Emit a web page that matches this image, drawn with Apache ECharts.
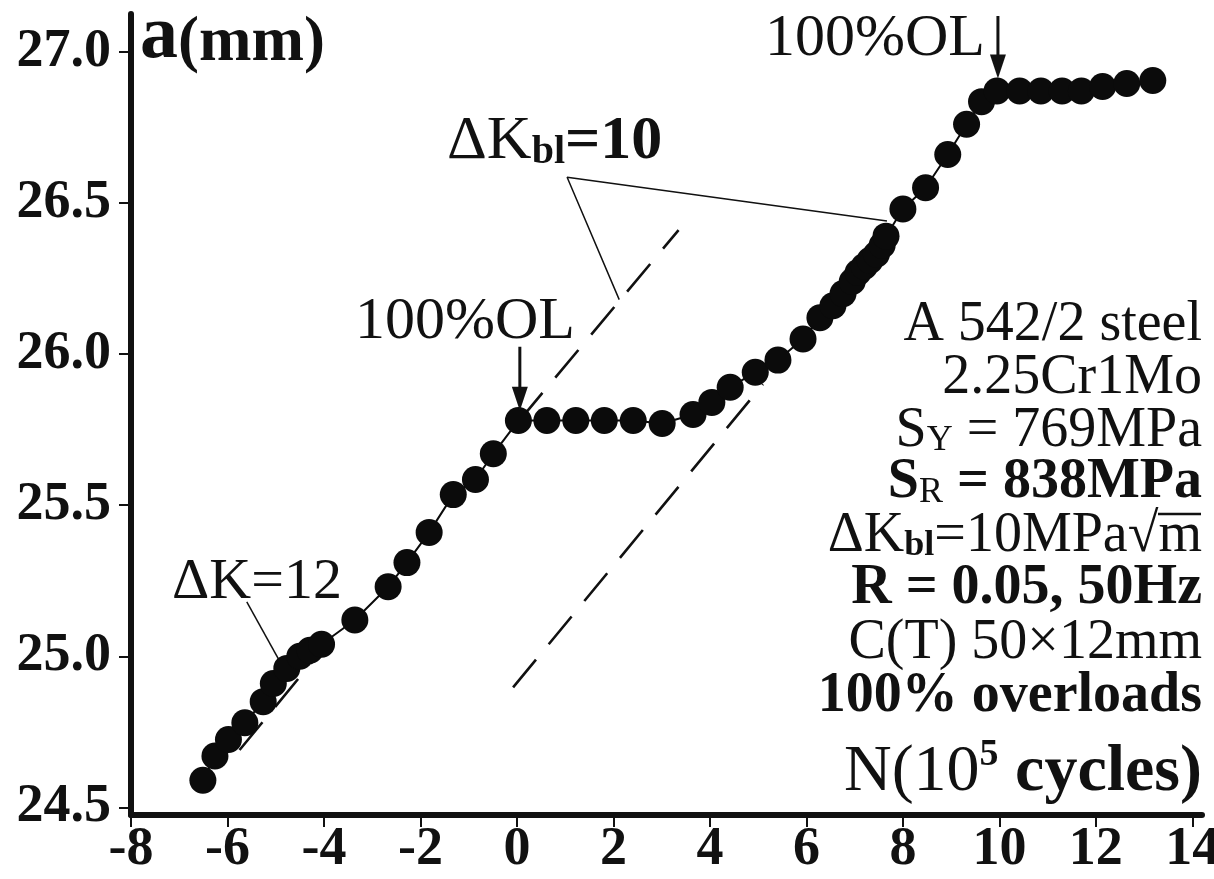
<!DOCTYPE html>
<html><head><meta charset="utf-8">
<script src="https://cdn.jsdelivr.net/npm/echarts@6/dist/echarts.min.js"></script>
<style>html,body{margin:0;padding:0;background:#fff}#c{width:1214px;height:879px}</style>
</head><body><div id="c"></div>
<script>
// ---- data ----
const cyclesN = [-6.51,-6.26,-5.98,-5.64,-5.26,-5.05,-4.77,-4.50,-4.29,-4.05,
  -3.36,-2.67,-2.28,-1.82,-1.32,-0.86,-0.49,0.03,
  0.62,1.22,1.81,2.41,3.01,
  3.65,4.04,4.42,4.94,5.41,5.93,
  6.28,6.55,6.76,6.95,7.07,7.20,7.32,7.45,7.57,7.65,
  8.00,8.47,8.93,9.32,9.63,9.95,
  10.42,10.86,11.30,11.70,12.14,12.64,13.18];
const crackA = [24.59,24.67,24.725,24.78,24.85,24.91,24.96,25.00,25.02,25.04,
  25.12,25.23,25.31,25.41,25.535,25.585,25.67,25.78,
  25.78,25.78,25.78,25.78,25.77,
  25.80,25.84,25.89,25.94,25.98,26.05,
  26.12,26.16,26.20,26.24,26.27,26.29,26.31,26.33,26.36,26.39,
  26.48,26.55,26.66,26.76,26.835,26.87,
  26.87,26.87,26.87,26.87,26.885,26.895,26.905];
const blUpperLine = [[0.05,25.78],[3.35,26.41]];
const blLowerLine = [[-0.08,24.897],[5.1,25.9]];
const dk12Line = [[-5.75,24.69],[-4.2,24.99]];
const blLeaderA = [[2.12,26.18],[1.04,26.585],[7.67,26.44]];
const dk12Leader = [[-5.6,25.18],[-4.87,24.97]];
const olArrow1 = [[0.06,26.024],[0.06,25.84]];
const olArrow2 = [[9.97,27.118],[9.97,26.94]];
const olArrowTips = [[0.06,25.812],[9.97,26.912]];
const xTicks = [-8,-6,-4,-2,0,2,4,6,8,10,12,14];
const yTicks = [24.5,25.0,25.5,26.0,26.5,27.0];
const infoLines = ['A 542/2 steel','2.25Cr1Mo','S|Y| = 769MPa','S|R| = 838MPa','ΔK|bl|=10MPa√m','R = 0.05, 50Hz','C(T) 50×12mm','100% overloads'];

const serif = "'Liberation Serif','Times New Roman',serif";
const chart = echarts.init(document.getElementById('c'), null, {renderer:'canvas'});

function dashSeries(pts){
  return {type:'line', data:pts, showSymbol:false, symbol:'none', silent:true, z:1,
    lineStyle:{color:'#111', width:2.6, type:[36,20]}, animation:false};
}
function thinSeries(pts, w){
  return {type:'line', data:pts, showSymbol:false, symbol:'none', silent:true, z:1,
    lineStyle:{color:'#111', width:w||1.5}, animation:false};
}

const infoWeights = ['normal','normal','normal','bold','normal','bold','normal','bold'];
const infoY = [323,376,429,481,534,587,641,695];
const graphics = [];
infoLines.forEach((ln,i)=>{
  const parts = ln.split('|');
  let t = '';
  parts.forEach((p,j)=>{ t += (j%2===1) ? '{sub|'+p+'}' : '{m|'+p+'}'; });
  graphics.push({type:'text', x:1202, y:infoY[i], silent:true, style:{
    text:t, align:'right', verticalAlign:'middle', fill:'#111',
    rich:{
      m:{fontFamily:serif, fontSize:56, fontWeight:infoWeights[i], lineHeight:60, fill:'#111', verticalAlign:'bottom'},
      sub:{fontFamily:serif, fontSize:36, fontWeight:(i===4?'bold':'normal'), lineHeight:50, fill:'#111', verticalAlign:'bottom'}
    }}});
});
// overline of the square root
graphics.push({type:'line', silent:true, shape:{x1:1158, y1:514, x2:1201, y2:514}, style:{stroke:'#111', lineWidth:2.5}});
// axis names and annotations
graphics.push({type:'text', x:140, y:40, silent:true, style:{
  text:'{a|a}{p|(mm)}', align:'left', verticalAlign:'middle',
  rich:{a:{fontFamily:serif,fontSize:76,fontWeight:'bold',fill:'#111',verticalAlign:'bottom',lineHeight:70},
        p:{fontFamily:serif,fontSize:63,fontWeight:'bold',fill:'#111',verticalAlign:'bottom',lineHeight:68}}}});
graphics.push({type:'text', x:1202, y:771, silent:true, style:{
  text:'{n|N(10}{s|5}{c| cycles)}', align:'right', verticalAlign:'middle',
  rich:{n:{fontFamily:serif,fontSize:66,fontWeight:'normal',fill:'#111',verticalAlign:'bottom',lineHeight:70},
        s:{fontFamily:serif,fontSize:38,fontWeight:'bold',fill:'#111',verticalAlign:'top',lineHeight:66},
        c:{fontFamily:serif,fontSize:66,fontWeight:'bold',fill:'#111',verticalAlign:'bottom',lineHeight:70}}}});
graphics.push({type:'text', x:447, y:142, silent:true, style:{
  text:'{d|ΔK}{s|bl}{e|=10}', align:'left', verticalAlign:'middle',
  rich:{d:{fontFamily:serif,fontSize:62,fontWeight:'normal',fill:'#111',verticalAlign:'bottom',lineHeight:62},
        s:{fontFamily:serif,fontSize:40,fontWeight:'bold',fill:'#111',verticalAlign:'bottom',lineHeight:46},
        e:{fontFamily:serif,fontSize:62,fontWeight:'bold',fill:'#111',verticalAlign:'bottom',lineHeight:62}}}});
graphics.push({type:'text', x:172, y:583, silent:true, style:{
  text:'ΔK=12', align:'left', verticalAlign:'middle', fontFamily:serif, fontSize:58, fill:'#111'}});
graphics.push({type:'text', x:355, y:322, silent:true, style:{
  text:'100%OL', align:'left', verticalAlign:'middle', fontFamily:serif, fontSize:60, fill:'#111'}});
graphics.push({type:'text', x:765, y:39, silent:true, style:{
  text:'100%OL', align:'left', verticalAlign:'middle', fontFamily:serif, fontSize:60, fill:'#111'}});

chart.setOption({
  animation:false,
  backgroundColor:'#fff',
  grid:{left:131, right:12, top:14, bottom:64, containLabel:false, outerBoundsMode:'none'},
  xAxis:{type:'value', min:-8, max:14.2,
    axisLine:{show:true, onZero:false, lineStyle:{color:'#111', width:6}},
    axisTick:{show:true, customValues:xTicks, length:12, lineStyle:{color:'#111', width:2}},
    axisLabel:{show:true, customValues:xTicks, margin:8, color:'#111', fontFamily:serif, fontWeight:'bold', fontSize:54,
      formatter:v=>String(v)},
    splitLine:{show:false}},
  yAxis:{type:'value', min:24.475, max:27.125,
    axisLine:{show:true, onZero:false, lineStyle:{color:'#111', width:6}},
    axisTick:{show:true, customValues:yTicks, length:12, lineStyle:{color:'#111', width:2}},
    axisLabel:{show:true, customValues:yTicks, margin:20, color:'#111', fontFamily:serif, fontWeight:'bold', fontSize:54,
      formatter:v=>v.toFixed(1)},
    splitLine:{show:false}},
  graphic:graphics,
  series:[
    dashSeries(blUpperLine),
    dashSeries(blLowerLine),
    dashSeries(dk12Line),
    thinSeries(blLeaderA),
    thinSeries(dk12Leader),
    thinSeries(olArrow1, 3),
    thinSeries(olArrow2, 3),
    {type:'line', name:'a', data:cyclesN.map((n,i)=>[n,crackA[i]]), z:2, animation:false,
      symbol:'circle', symbolSize:27, showAllSymbol:true,
      itemStyle:{color:'#0b0b0b', borderWidth:0},
      lineStyle:{color:'#0b0b0b', width:2}},
    {type:'scatter', data:olArrowTips, z:4, silent:true, animation:false,
      symbol:'triangle', symbolRotate:180, symbolSize:[16,24], symbolOffset:[0,-12],
      itemStyle:{color:'#111', opacity:1}}
  ]
});
</script>
</body></html>
